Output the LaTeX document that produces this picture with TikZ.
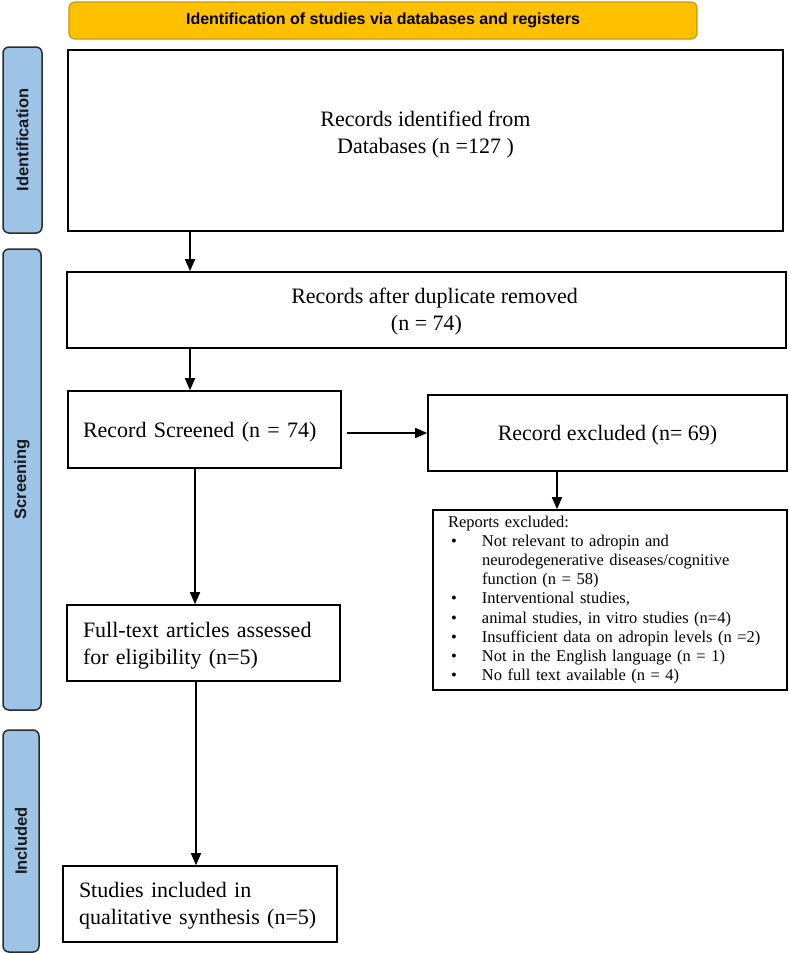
\documentclass[tikz,border=0pt]{standalone}
\usepackage{fontspec}
\setmainfont{Liberation Serif}
\newfontfamily\lsans{Liberation Sans}
\usetikzlibrary{arrows.meta}
\definecolor{bannerfill}{HTML}{FFC000}
\definecolor{bannerdraw}{HTML}{C89B00}
\definecolor{sidefill}{HTML}{9DC3E6}
\definecolor{sidedraw}{HTML}{2B2B2B}
\newcommand\shiftedtext[3]{\raisebox{#1}[\height][\depth]{\begin{tabular}{@{}#2@{}}#3\end{tabular}}}
\newcommand\bulletitem{\hspace*{3pt}\makebox[31pt][l]{\textbullet}}
\begin{document}
\begin{tikzpicture}[x=1pt,y=-1pt,
  flowbox/.style={draw=black,line width=1.6pt,inner sep=0pt,align=center,
    font=\fontsize{22}{27}\selectfont},
  leftbox/.style={flowbox,align=left,inner xsep=#1},
  sidebox/.style={draw=sidedraw,fill=sidefill,line width=1.5pt,rounded corners=6pt,
    inner sep=0pt,font=\lsans\bfseries\fontsize{16.5}{19}\selectfont,text=black!90},
  banner/.style={draw=bannerdraw,fill=bannerfill,line width=1.2pt,rounded corners=6pt,
    inner sep=0pt,font=\lsans\bfseries\fontsize{16}{19}\selectfont},
  arr/.style={line width=1.6pt,-{Triangle[length=12pt,width=10pt]}}
]
\useasboundingbox (0,0) rectangle (789,953);

% banner
\node[banner,minimum width=628pt,minimum height=37pt] (ban) at (383,20.5)
  {Identification of studies via databases and registers};

% side labels
\node[sidebox,minimum width=39pt,minimum height=186pt] (sid) at (22.5,140)
  {\rotatebox{90}{Identification}};
\node[sidebox,minimum width=38pt,minimum height=461pt] (ssc) at (22,479.5)
  {\rotatebox{90}{Screening}};
\node[sidebox,minimum width=36pt,minimum height=222pt] (sin) at (21,841)
  {\rotatebox{90}{Included}};

% flow boxes
\node[flowbox,minimum width=715pt,minimum height=181pt] (rid) at (425.5,140.5)
  {\shiftedtext{6pt}{c}{Records identified from\\Databases (n =127 )}};
\node[flowbox,minimum width=719pt,minimum height=76pt] (rad) at (426.5,310)
  {\shiftedtext{-2pt}{c}{\hspace*{16pt}Records after duplicate removed\\(n = 74)}};
\node[leftbox=15pt,text width=243pt,minimum width=273pt,minimum height=77pt] (scr) at (204.5,429.5)
  {\shiftedtext{-3pt}{l}{Record Screened (n = 74)}};
\node[flowbox,minimum width=359pt,minimum height=76pt] (rex) at (607.5,433)
  {\shiftedtext{-2pt}{c}{Record excluded (n= 69)}};
\node[leftbox=15pt,text width=324pt,minimum width=354pt,minimum height=180pt,
  font=\fontsize{16.5}{19.2}\selectfont] (rep) at (610,600)
  {Reports excluded:\\
   \bulletitem Not relevant to adropin and\\
   \hspace*{34pt}neurodegenerative diseases/cognitive\\
   \hspace*{34pt}function (n = 58)\\
   \bulletitem Interventional studies,\\
   \bulletitem animal studies, in vitro studies (n=4)\\
   \bulletitem Insufficient data on adropin levels (n =2)\\
   \bulletitem Not in the English language (n = 1)\\
   \bulletitem No full text available (n = 4)};
\node[leftbox=16pt,text width=241pt,minimum width=273pt,minimum height=76pt] (ful) at (203.5,643)
  {\shiftedtext{-3pt}{l}{Full-text articles assessed\\for eligibility (n=5)}};
\node[leftbox=16pt,text width=242pt,minimum width=274pt,minimum height=76pt] (inc) at (200,904)
  {\shiftedtext{-2pt}{l}{Studies included in\\qualitative synthesis (n=5)}};

% connectors
\coordinate (xa) at (190,0);
\coordinate (xb) at (557,0);
\coordinate (xc) at (195,0);
\coordinate (xd) at (196,0);
\draw[arr] (rid.south -| xa) -- (rad.north -| xa);
\draw[arr] (rad.south -| xa) -- (scr.north -| xa);
\draw[arr] ([xshift=5pt]scr.east |- rex.west) -- (rex.west);
\draw[arr] (rex.south -| xb) -- (rep.north -| xb);
\draw[arr] (scr.south -| xc) -- (ful.north -| xc);
\draw[arr] (ful.south -| xd) -- (inc.north -| xd);
\end{tikzpicture}
\end{document}
